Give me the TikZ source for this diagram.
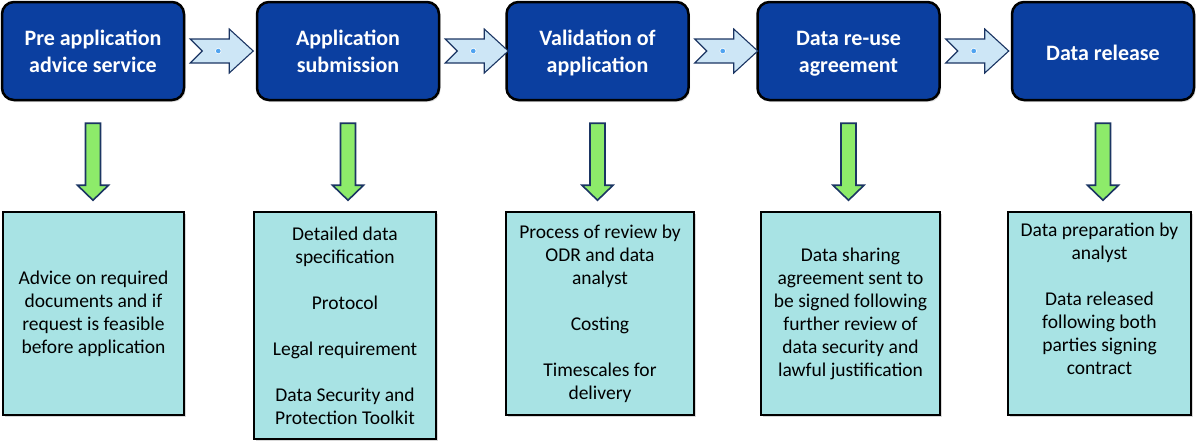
\documentclass[tikz,border=0pt]{standalone}
\usepackage{fontspec}
\setmainfont{Carlito}
\usetikzlibrary{shadows,calc}
\definecolor{topblue}{HTML}{0B3FA0}
\definecolor{botfill}{HTML}{A8E3E4}
\definecolor{chevfill}{HTML}{CDE6F6}
\definecolor{navy}{HTML}{1B3563}
\definecolor{dotblue}{HTML}{4FA3F0}
\definecolor{gfill}{HTML}{8DEB6A}
\begin{document}
\begin{tikzpicture}[x=1pt,y=-1pt,
  topbase/.style={draw=black, line width=2.5pt, fill=topblue, rounded corners=12pt,
    minimum width=182pt, minimum height=98pt, text=white, align=center, inner sep=0pt,
    font=\fontsize{22}{27}\selectfont\bfseries, execute at end node=\strut,
    drop shadow={shadow xshift=1.5pt, shadow yshift=-2pt, opacity=0.25}},
  topbox/.style={topbase, execute at begin node=\rule{0pt}{52pt}},
  onelinetop/.style={topbase, execute at begin node=\rule{0pt}{27pt}},
  botbox/.style={draw=black, line width=1.5pt, fill=botfill, align=center, inner sep=0pt,
    minimum height=203pt, font=\fontsize{19.5}{23}\selectfont,
    drop shadow={shadow xshift=2pt, shadow yshift=-2pt, opacity=0.3}},
  chev/.style={draw=navy, line width=1.1pt, fill=chevfill, line join=miter},
  garrow/.style={draw=navy, line width=1.6pt, fill=gfill, line join=miter}]
\useasboundingbox (0,0) rectangle (1200,445);

\node[topbox] (t1) at (93,51) {Pre application\\advice service};
\node[topbox] (t2) at (348,51) {Application\\submission};
\node[topbox] (t3) at (597.5,51) {Validation of\\application};
\node[topbox] (t4) at (848.5,51) {Data re-use\\agreement};
\node[onelinetop] (t5) at (1103,51) {Data release};

\node[botbox, minimum width=181pt] (b1) at (93.5,313.5)
  {Advice on required\\documents and if\\request is feasible\\before application};
\node[botbox, minimum width=182pt, minimum height=227pt] (b2) at (345,325.5)
  {Detailed data\\specification\\[23pt]Protocol\\[23pt]Legal requirement\\[23pt]Data Security and\\Protection Toolkit};
\node[botbox, minimum width=188pt] (b3) at (600,313.5)
  {Process of review by\\ODR and data\\analyst\\[23pt]Costing\\[23pt]Timescales for\\delivery};
\node[botbox, minimum width=179pt] (b4) at (850.5,313.5)
  {Data sharing\\agreement sent to\\be signed following\\further review of\\data security and\\lawful justification};
\node[botbox, minimum width=183pt] (b5) at (1099.5,313.5)
  {Data preparation by\\analyst\\[23pt]Data released\\following both\\parties signing\\contract\\\strut};

\foreach \a/\b in {t1/t2,t2/t3,t3/t4,t4/t5}{
  \draw[chev] ($(\a.east)+(5,-12)$) -- ++(39,0) -- ++(0,-10) -- ++(24,22)
    -- ++(-24,22) -- ++(0,-10) -- ++(-39,0) -- ++(12,-12) -- cycle;
  \filldraw[fill=dotblue, draw=white, line width=0.6pt] ($(\a.east)+(33,0)$) circle (2.8);
}

\foreach \a/\b in {t1/b1,t2/b2,t3/b3,t4/b4,t5/b5}{
  \draw[garrow] ($(\a.south)+(-7.5,22)$) -- ++(15,0) -- ++(0,62) -- ++(8,0)
    -- ++(-15.5,15) -- ++(-15.5,-15) -- ++(8,0) -- cycle;
}
\end{tikzpicture}
\end{document}
